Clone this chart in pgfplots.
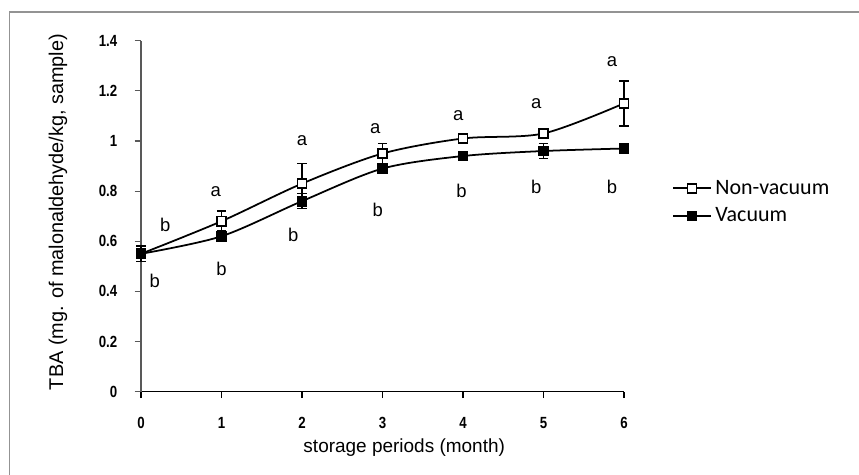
\documentclass[border=0pt]{standalone}
\usepackage{fontspec}
\setmainfont{Liberation Sans}
\newfontfamily\carlito{Carlito}
\usepackage{graphicx}
\usepackage{pgfplots}
\pgfplotsset{compat=1.18}
\newcommand\tl[1]{\scalebox{0.82}[1]{\bfseries #1}}

\pgfplotstableread{
x y e
0 0.55 0.03
1 0.68 0.04
2 0.83 0.08
3 0.95 0.04
4 1.01 0.01
5 1.03 0.01
6 1.15 0.09
}\nonvac
\pgfplotstableread{
x y e
0 0.55 0.03
1 0.62 0.02
2 0.76 0.03
3 0.89 0.01
4 0.94 0.01
5 0.96 0.03
6 0.97 0.01
}\vac

\begin{document}
\begin{tikzpicture}
\useasboundingbox (0,0) rectangle (17.18,-9.5);
\draw[gray!85, line width=1.1pt] (0.19,-0.234) rectangle (17.5,-9.9);
\begin{axis}[
  at={(2.82cm,-7.834cm)}, anchor=south west,
  scale only axis, width=9.66cm, height=7.02cm,
  xmin=0, xmax=6, ymin=0, ymax=1.4, clip=false,
  axis x line=bottom, axis y line=left,
  x axis line style={-, black, line width=0.8pt},
  y axis line style={-, gray!70!black, line width=0.8pt},
  tick align=outside, major tick length=0.13cm,
  xtick style={black, line width=0.7pt},
  ytick style={gray!70!black, line width=0.7pt},
  xtick={0,1,2,3,4,5,6},
  xticklabels={\tl{0},\tl{1},\tl{2},\tl{3},\tl{4},\tl{5},\tl{6}},
  ytick={0,0.2,0.4,0.6,0.8,1,1.2,1.4},
  yticklabels={\tl{0},\tl{0.2},\tl{0.4},\tl{0.6},\tl{0.8},\tl{1},\tl{1.2},\tl{1.4}},
  tick label style={font=\fontsize{9.2}{11}\selectfont},
  yticklabel style={xshift=-0.22cm},
  xticklabel style={yshift=-0.26cm},
  xlabel={storage periods (month)},
  xlabel style={at={(axis description cs:0.545,0)}, anchor=center, yshift=-1.12cm, font=\fontsize{10.8}{13}\selectfont},
  ylabel={TBA (mg. of malonaldehyde/kg, sample)},
  ylabel style={at={(axis description cs:0,0.512)}, anchor=center, yshift=1.66cm, font=\fontsize{11.3}{13}\selectfont},
  legend style={at={(axis description cs:1.099,0.54)}, anchor=west, draw=none, fill=none,
    font=\carlito\fontsize{12.5}{15}\selectfont, row sep=0.08cm, inner sep=0pt,
    cells={anchor=west}},
  legend image code/.code={\draw[mark repeat=2, mark phase=2, #1] plot coordinates {(0cm,0cm) (0.38cm,0cm) (0.76cm,0cm)};},
]
\addplot[black, line width=1pt, smooth, tension=0.5, mark=square*, mark size=2.6pt,
  mark options={fill=white, line width=0.9pt, solid},
  error bars/.cd, y dir=both, y explicit,
  error bar style={line width=0.9pt, black},
  error mark options={rotate=90, mark size=2.6pt, line width=0.9pt, black}]
  table[x=x, y=y, y error=e] {\nonvac};
\addlegendentry{Non-vacuum}
\addplot[black, line width=1pt, smooth, tension=0.5, mark=square*, mark size=2.6pt,
  mark options={fill=black, line width=0.9pt, solid},
  error bars/.cd, y dir=both, y explicit,
  error bar style={line width=0.9pt, black},
  error mark options={rotate=90, mark size=2.6pt, line width=0.9pt, black}]
  table[x=x, y=y, y error=e] {\vac};
\addlegendentry{Vacuum}
\begin{scope}[every node/.style={font=\fontsize{10.5}{12}\selectfont, inner sep=0pt}]
\node at (axis cs:0.30,0.665) {b};
\node at (axis cs:0.17,0.44) {b};
\node at (axis cs:0.93,0.80) {a};
\node at (axis cs:1.00,0.49) {b};
\node at (axis cs:2.00,1.00) {a};
\node at (axis cs:1.89,0.625) {b};
\node at (axis cs:2.91,1.05) {a};
\node at (axis cs:2.94,0.725) {b};
\node at (axis cs:3.94,1.10) {a};
\node at (axis cs:3.98,0.80) {b};
\node at (axis cs:4.91,1.15) {a};
\node at (axis cs:4.91,0.815) {b};
\node at (axis cs:5.85,1.315) {a};
\node at (axis cs:5.85,0.815) {b};
\end{scope}
\end{axis}
\end{tikzpicture}
\end{document}
